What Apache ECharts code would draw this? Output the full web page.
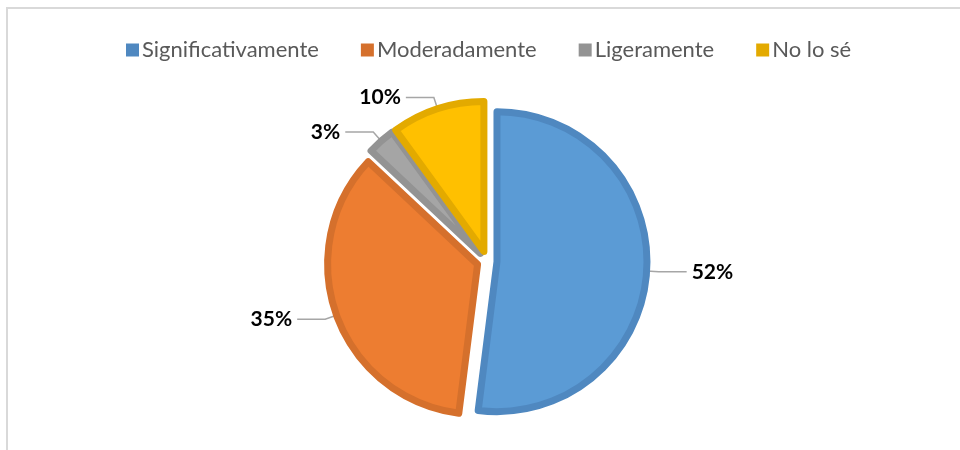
<!DOCTYPE html>
<html lang="es">
  <head>
    <meta charset="UTF-8" />
    <title>Pie - Significativamente / Moderadamente</title>
    <script src="https://cdn.jsdelivr.net/npm/echarts@6.0.0/dist/echarts.min.js"></script>
    <style>
      body { margin: 0; background: #fff; }
    </style>
  </head>
  <body>
    <div id="main" style="width: 960px; height: 450px"></div>
    <script type="text/javascript">
      // Data
      const categories = ["Significativamente", "Moderadamente", "Ligeramente", "No lo sé"];
      const values = [52, 35, 3, 10];
      const fillColors = ["#5B9BD5", "#ED7D31", "#A5A5A5", "#FFC000"];
      const edgeColors = ["#4F88C0", "#D5702C", "#939393", "#E3AA00"];

      let myChart = echarts.init(document.getElementById("main"));

      const pieData = categories.map((name, i) => ({
        name: name,
        value: values[i],
        selected: true,
        itemStyle: { color: fillColors[i], borderColor: edgeColors[i] },
      }));

      let options = {
        animation: false,
        textStyle: { fontFamily: "Lato" },
        graphic: [
          {
            type: "rect",
            shape: { x: 7, y: 8, width: 1000, height: 500 },
            style: { fill: "none", stroke: "#d9d9d9", lineWidth: 2 },
          },
        ],
        legend: {
          top: 34,
          left: 121,
          itemWidth: 13,
          itemHeight: 13,
          itemGap: 42,
          icon: "rect",
          selectedMode: false,
          data: categories.map((name, i) => ({
            name: name,
            itemStyle: { color: edgeColors[i], borderWidth: 0 },
          })),
          textStyle: { fontSize: 22, color: "#595959", padding: [0, 0, 0, -2] },
        },
        series: [
          {
            name: "Respuestas",
            type: "pie",
            center: [487, 261],
            radius: 150,
            startAngle: 90,
            clockwise: true,
            selectedMode: "multiple",
            selectedOffset: 10,
            itemStyle: { borderWidth: 7 },
            emphasis: { disabled: true },
            label: {
              show: true,
              formatter: "{d}%",
              fontSize: 21,
              fontWeight: "bold",
              color: "#000",
              fontFamily: "Lato",
            },
            labelLine: {
              show: true,
              length: 12,
              length2: 28,
              lineStyle: { color: "#a6a6a6", width: 1.5 },
            },
            data: pieData,
          },
        ],
      };

      myChart.setOption(options);
    </script>
  </body>
</html>
